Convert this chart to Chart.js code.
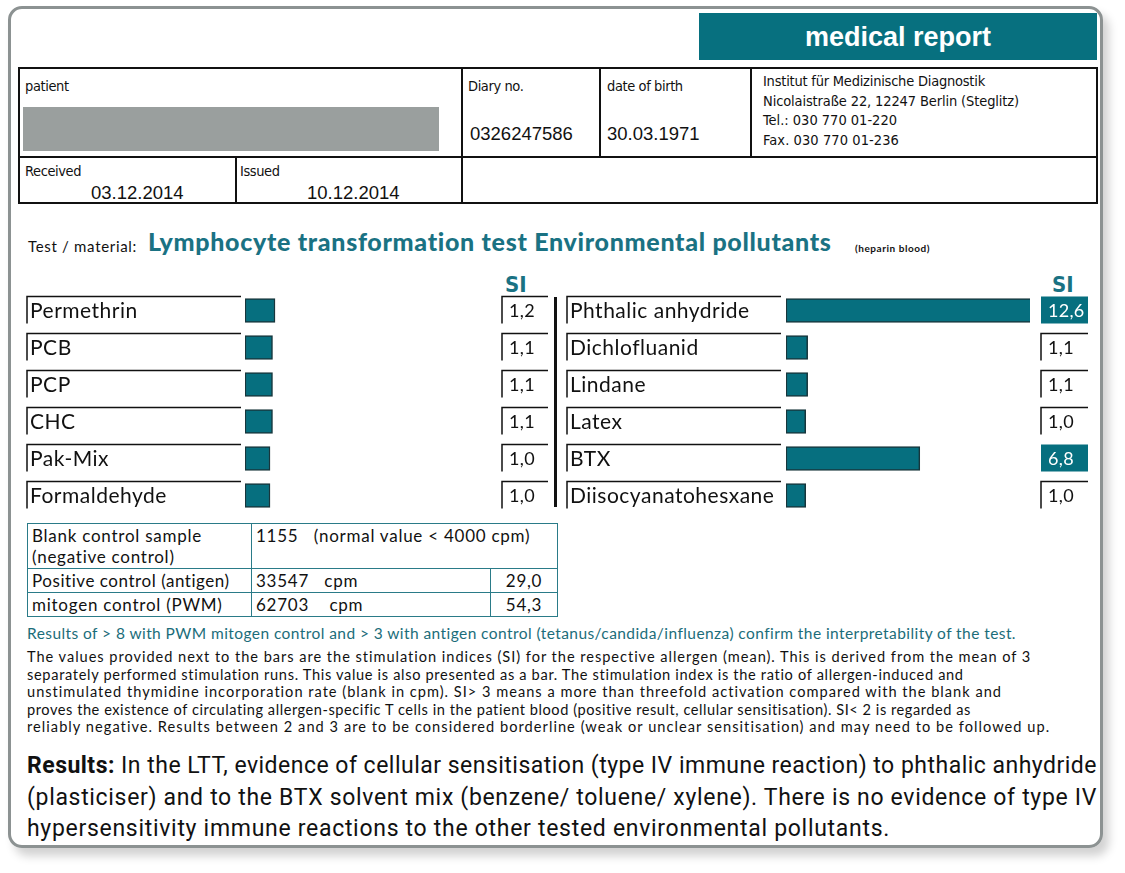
<!DOCTYPE html>
<html>
<head>
<meta charset="utf-8">
<script src="https://cdn.jsdelivr.net/npm/chart.js@4/dist/chart.umd.min.js"></script>
<style>
  body { margin: 0; background: #fff; width: 1125px; height: 873px; position: relative; overflow: hidden; font-family: Lato, sans-serif; }
  .abs { position: absolute; white-space: nowrap; }
  #frame { left: 8px; top: 6px; width: 1095px; height: 842px; border: 3px solid #8c9292; border-radius: 14px;
           box-shadow: 6px 8px 10px rgba(0,0,0,0.18); box-sizing: border-box; }
  #head { left: 699px; top: 13px; width: 398px; height: 47px; background: #07707f; color: #fff;
          font: bold 27px "Liberation Sans", Arial, sans-serif; text-align: center; line-height: 49px; }
  .cell { position: absolute; border: 2px solid #111; box-sizing: border-box; font-family: "DejaVu Sans Condensed", "Liberation Sans", sans-serif; color: #111; }
  .cell div { position: absolute; white-space: nowrap; }
  .sm { font-size: 14.5px; letter-spacing: -0.4px; }
  .big { font-family: "Liberation Sans", Arial, sans-serif; font-size: 18.5px; }
  #ctl { left: 27px; top: 523px; border-collapse: collapse; font-size: 17px; color: #111; white-space: nowrap; }
  #ctl td { border: 1.5px solid #2a7b88; padding: 0 4px; height: 23px; line-height: 20px; letter-spacing: 0.75px; }
  .note { left: 27px; top: 624px; font-size: 15.5px; color: #1b6d7a; }
  .pl { left: 27px; font-size: 14.6px; line-height: 17.5px; color: #111; }
  .res { left: 27px; font-family: Roboto, sans-serif; font-size: 23px; color: #111; }
</style>
</head>
<body>
<div id="frame" class="abs"></div>
<div id="head" class="abs">medical report</div>

<div class="cell" style="left:18px;top:67px;width:445px;height:91px;">
  <div class="sm" style="left:5px;top:9px;">patient</div>
  <div style="left:3px;top:38px;width:416px;height:44px;background:#9a9f9e;"></div>
</div>
<div class="cell" style="left:461px;top:67px;width:140px;height:91px;">
  <div class="sm" style="left:5px;top:9px;">Diary no.</div>
  <div class="big" style="left:7px;top:54px;">0326247586</div>
</div>
<div class="cell" style="left:599px;top:67px;width:153px;height:91px;">
  <div class="sm" style="left:6px;top:9px;">date of birth</div>
  <div class="big" style="left:6px;top:54px;">30.03.1971</div>
</div>
<div class="cell" style="left:750px;top:67px;width:348px;height:91px;">
  <div class="sm" data-w="222" style="left:11px;top:4px;">Institut für Medizinische Diagnostik</div>
  <div class="sm" data-w="256" style="left:11px;top:23.5px;">Nicolaistraße 22, 12247 Berlin (Steglitz)</div>
  <div class="sm" data-w="134" style="left:11px;top:43px;">Tel.: 030 770 01-220</div>
  <div class="sm" data-w="136" style="left:11px;top:62.5px;">Fax. 030 770 01-236</div>
</div>
<div class="cell" style="left:18px;top:156px;width:219px;height:48px;">
  <div class="sm" style="left:5px;top:5px;">Received</div>
  <div class="big" style="left:71px;top:24px;">03.12.2014</div>
</div>
<div class="cell" style="left:235px;top:156px;width:228px;height:48px;">
  <div class="sm" style="left:3px;top:5px;">Issued</div>
  <div class="big" style="left:70px;top:24px;">10.12.2014</div>
</div>
<div class="cell" style="left:461px;top:156px;width:637px;height:48px;"></div>

<div class="abs" data-w="109" style="left:28px;top:237px;font-size:15px;color:#111;">Test / material:</div>
<div class="abs" data-w="684" style="left:148px;top:226px;font-size:25px;font-weight:900;color:#1a7283;">Lymphocyte transformation test Environmental pollutants</div>
<div class="abs" data-w="75" style="left:855px;top:242px;font-size:10px;font-weight:bold;color:#111;">(heparin blood)</div>

<div class="abs" style="left:505px;top:272px;font:bold 22px 'DejaVu Sans Condensed', sans-serif;color:#1a7283;">SI</div>
<div class="abs" style="left:1052px;top:272px;font:bold 22px 'DejaVu Sans Condensed', sans-serif;color:#1a7283;">SI</div>
<div class="abs" style="left:554px;top:297px;width:3px;height:210px;background:#111;"></div>

<div class="abs" style="left:20px;top:292px;width:540px;height:222px;"><canvas id="leftChart"></canvas></div>
<div class="abs" style="left:560px;top:292px;width:535px;height:222px;"><canvas id="rightChart"></canvas></div>

<table id="ctl" class="abs">
  <tr><td style="width:215px;height:44px;line-height:21px;">Blank control sample<br>(negative control)</td><td colspan="2" style="vertical-align:top;padding-top:2px;">1155&nbsp;&nbsp;&nbsp;(normal value &lt; 4000 cpm)</td></tr>
  <tr><td style="letter-spacing:0.55px;">Positive control (antigen)</td><td style="width:230px;">33547&nbsp;&nbsp;&nbsp;cpm</td><td style="width:58px;text-align:center;">29,0</td></tr>
  <tr><td>mitogen control (PWM)</td><td>62703&nbsp;&nbsp;&nbsp;&nbsp;cpm</td><td style="text-align:center;">54,3</td></tr>
</table>

<div class="abs note" data-w="989">Results of &gt; 8 with PWM mitogen control and &gt; 3 with antigen control (tetanus/candida/influenza) confirm the interpretability of the test.</div>
<div class="abs pl" data-w="1005" style="top:648px;">The values provided next to the bars are the stimulation indices (SI) for the respective allergen (mean). This is derived from the mean of 3</div>
<div class="abs pl" data-w="938" style="top:665.5px;">separately performed stimulation runs. This value is also presented as a bar. The stimulation index is the ratio of allergen-induced and</div>
<div class="abs pl" data-w="976" style="top:683px;">unstimulated thymidine incorporation rate (blank in cpm). SI&gt; 3 means a more than threefold activation compared with the blank and</div>
<div class="abs pl" data-w="945" style="top:700.5px;">proves the existence of circulating allergen-specific T cells in the patient blood (positive result, cellular sensitisation). SI&lt; 2 is regarded as</div>
<div class="abs pl" data-w="1024" style="top:718px;">reliably negative. Results between 2 and 3 are to be considered borderline (weak or unclear sensitisation) and may need to be followed up.</div>

<div class="abs res" data-w="1070" style="top:752px;"><b>Results:</b> In the LTT, evidence of cellular sensitisation (type IV immune reaction) to phthalic anhydride</div>
<div class="abs res" data-w="1070" style="top:784px;">(plasticiser) and to the BTX solvent mix (benzene/ toluene/ xylene). There is no evidence of type IV</div>
<div class="abs res" data-w="863" style="top:815px;">hypersensitivity immune reactions to the other tested environmental pollutants.</div>

<script>
// left column
var leftLabels = ['Permethrin', 'PCB', 'PCP', 'CHC', 'Pak-Mix', 'Formaldehyde'];
var leftValues = [1.2, 1.1, 1.1, 1.1, 1.0, 1.0];
// right column
var rightLabels = ['Phthalic anhydride', 'Dichlofluanid', 'Lindane', 'Latex', 'BTX', 'Diisocyanatohesxane'];
var rightValues = [12.6, 1.1, 1.1, 1.0, 6.8, 1.0];
var positiveLimit = 3;

var teal = '#066f7f';

// stretch or squeeze text lines to the widths
function fitText() {
    document.querySelectorAll('[data-w]').forEach(function(el) {
        el.style.letterSpacing = '0px';
        var w = el.getBoundingClientRect().width;
        var n = el.textContent.length;
        var target = parseFloat(el.getAttribute('data-w'));
        el.style.letterSpacing = ((target - w) / n) + 'px';
    });
}

// draws label boxes and SI boxes next to each bar
function rowsPlugin(labelBox, siBox) {
    return {
        id: 'rows',
        afterDraw: function(chart) {
            var ctx = chart.ctx;
            var y = chart.scales.y;
            var vals = chart.data.datasets[0].data;
            ctx.save();
            chart.data.labels.forEach(function(lab, i) {
                var yc = y.getPixelForValue(i);
                var top = yc - 14, bot = yc + 13;
                ctx.strokeStyle = '#111';
                ctx.lineWidth = 1.5;
                ctx.beginPath();
                ctx.moveTo(labelBox[0], bot);
                ctx.lineTo(labelBox[0], top);
                ctx.lineTo(labelBox[1], top);
                ctx.stroke();
                ctx.fillStyle = '#111';
                ctx.font = '21px Lato';
                ctx.letterSpacing = '0.5px';
                ctx.textBaseline = 'middle';
                ctx.textAlign = 'left';
                ctx.fillText(lab, labelBox[0] + 3, yc + 1);
                var v = vals[i];
                var txt = v.toFixed(1).replace('.', ',');
                if (v > positiveLimit) {
                    ctx.fillStyle = teal;
                    ctx.fillRect(siBox[0], top, siBox[1] - siBox[0], bot - top);
                    ctx.fillStyle = '#fff';
                } else {
                    ctx.beginPath();
                    ctx.moveTo(siBox[0], bot);
                    ctx.lineTo(siBox[0], top);
                    ctx.lineTo(siBox[1], top);
                    ctx.stroke();
                    ctx.fillStyle = '#111';
                }
                ctx.font = '18px Lato';
                ctx.letterSpacing = '0.3px';
                ctx.fillText(txt, siBox[0] + 7, yc + 1);
            });
            ctx.restore();
        }
    };
}

function makeChart(id, labels, values, max, padLeft, padRight, labelBox, siBox) {
    return new Chart(document.getElementById(id), {
        type: 'bar',
        data: {
            labels: labels,
            datasets: [{
                data: values,
                backgroundColor: teal,
                borderColor: '#17363c',
                borderWidth: 1.5,
                borderSkipped: false,
                barThickness: 24
            }]
        },
        options: {
            indexAxis: 'y',
            responsive: true,
            maintainAspectRatio: false,
            animation: false,
            layout: { padding: { left: padLeft, right: padRight, top: 0, bottom: 0 } },
            plugins: { legend: { display: false }, tooltip: { enabled: false } },
            scales: {
                x: { display: false, min: 0, max: max },
                y: { display: false }
            }
        },
        plugins: [rowsPlugin(labelBox, siBox)]
    });
}

document.fonts.ready.then(function() {
    fitText();
    makeChart('leftChart', leftLabels, leftValues, 10.0, 225, 65, [7, 221], [482, 528]);
    makeChart('rightChart', rightLabels, rightValues, 12.4, 226, 65, [7, 221], [481, 528]);
});
</script>
</body>
</html>
